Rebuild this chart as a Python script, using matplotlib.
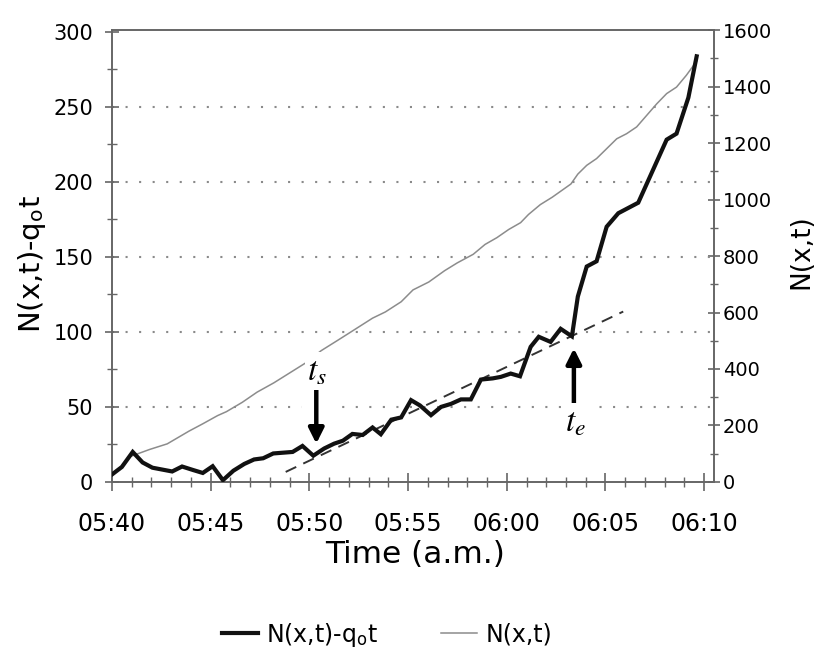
import matplotlib
matplotlib.use('Agg')
import matplotlib.pyplot as plt
from matplotlib.ticker import FixedLocator, FixedFormatter, MultipleLocator
from matplotlib.lines import Line2D

plt.rcParams['font.family'] = ['DejaVu Sans']
plt.rcParams['mathtext.fontset'] = 'stix'

# ---------------- data (minutes after 05:40) ----------------
minutes_black = [0.0, 0.5, 1.05, 1.55, 2.05, 3.05, 3.55, 4.1, 4.6, 5.1, 5.62, 6.15, 6.7, 7.2,
                 7.66, 8.17, 9.15, 9.65, 10.2, 10.75, 11.25, 11.7, 12.18, 12.7, 13.2, 13.62,
                 14.15, 14.65, 15.15, 15.6, 16.16, 16.67, 17.17, 17.68, 18.18, 18.69, 19.29,
                 19.7, 20.2, 20.67, 21.21, 21.62, 22.22, 22.73, 23.3, 23.6, 24.05, 24.55,
                 25.06, 25.65, 26.66, 28.1, 28.6, 29.2, 29.62]
n_minus_qt = [5, 10, 20, 13, 9.5, 7, 10.3, 8, 6, 10.5, 1.2, 7.5, 12, 15,
              15.8, 19, 20, 24, 17.5, 22.3, 25.5, 27.5, 32, 31.3, 36.3, 31.8,
              41.5, 43, 54.5, 51, 44.5, 50, 52, 55, 55, 68.2, 69,
              70, 72.2, 70.4, 90, 96.7, 93.3, 102, 97, 123.5, 143.5, 147,
              170, 179, 186, 228, 232, 256, 283.5]

minutes_gray = [1.0, 1.9, 2.8, 3.9, 4.6, 5.35, 5.8, 6.6, 7.35, 8.2, 9.0, 9.8, 10.6, 11.4,
                12.1, 13.2, 13.85, 14.65, 15.25, 16.05, 16.85, 17.5, 18.3, 18.9, 19.5,
                20.1, 20.7, 21.1, 21.7, 22.3, 23.25, 23.6, 24.05, 24.55, 25.06, 25.57,
                26.07, 26.58, 27.09, 27.6, 28.1, 28.6, 29.1, 29.62]
n_cumulative = [92, 115, 135, 180, 206, 235, 249, 282, 318, 351, 386, 421, 465, 500,
                531, 580, 602, 638, 680, 708, 748, 776, 806, 841, 865,
                894, 918, 947, 982, 1008, 1055, 1090, 1121, 1145, 1180, 1215,
                1233, 1257, 1298, 1339, 1375, 1398, 1440, 1490]

dash_minutes = [8.8, 25.9]
dash_values = [6.7, 113.5]

x_ticks = [0, 5, 10, 15, 20, 25, 30]
x_tick_labels = ['05:40', '05:45', '05:50', '05:55', '06:00', '06:05', '06:10']
left_ticks = [0, 50, 100, 150, 200, 250, 300]
right_ticks = [0, 200, 400, 600, 800, 1000, 1200, 1400, 1600]
grid_values = [50, 100, 150, 200, 250]

ts_minute, ts_tail, ts_tip, ts_label_y = 10.35, 62.0, 25.5, 74.0
te_minute, te_tail, te_tip, te_label_y = 23.4, 51.0, 89.0, 40.0

# ---------------- figure ----------------
fig = plt.figure(figsize=(8.18, 6.53), dpi=100)
ax = fig.add_axes([0.1369, 0.2619, 0.7360, 0.6921])
ax2 = ax.twinx()
ax.set_zorder(ax2.get_zorder() + 1)
ax.patch.set_visible(False)

spine_col = '#666666'
for a in (ax, ax2):
    for s in a.spines.values():
        s.set_color(spine_col)
        s.set_linewidth(1.2)

# gridlines
for g in grid_values:
    ax.axhline(g, color='#8a8a8a', lw=1.5, linestyle=(0, (1, 5.5)), zorder=0.5)

# gray N(x,t)
ax2.plot(minutes_gray, n_cumulative, color='#8c8c8c', lw=1.1, zorder=2)

# black N - q0 t
ax.plot(dash_minutes, dash_values, color='#333333', lw=1.4, dashes=(6, 4), zorder=2.5)
ax.plot(minutes_black, n_minus_qt, color='#111111', lw=3.0, solid_joinstyle='miter', zorder=3)

# white shadows behind arrows (gaps in gridlines)
for m, tail, tip in ((ts_minute, ts_tail, ts_tip), (te_minute, te_tail, te_tip)):
    ax.plot([m, m], [tail, tip], color='white', lw=22, solid_capstyle='butt', zorder=1)

arrow_kw = dict(arrowstyle='-|>,head_length=0.9,head_width=0.45', lw=3.2,
                color='black', shrinkA=0, shrinkB=0)
ax.annotate('', xy=(ts_minute, ts_tip), xytext=(ts_minute, ts_tail),
            arrowprops=arrow_kw, zorder=4)
ax.annotate('', xy=(te_minute, te_tip), xytext=(te_minute, te_tail),
            arrowprops=arrow_kw, zorder=4)

ax.text(ts_minute + 0.05, ts_label_y, r'$t_s$', fontsize=24, ha='center', va='center',
        zorder=5, bbox=dict(facecolor='white', edgecolor='none', pad=2))
ax.text(te_minute + 0.1, te_label_y, r'$t_e$', fontsize=24, ha='center', va='center',
        zorder=5, bbox=dict(facecolor='white', edgecolor='none', pad=2))

# axes limits and ticks
ax.set_xlim(0, 30.5)
ax.set_ylim(0, 301)
ax2.set_ylim(0, 1600)

ax.xaxis.set_major_locator(FixedLocator(x_ticks))
ax.xaxis.set_major_formatter(FixedFormatter(x_tick_labels))
ax.xaxis.set_minor_locator(MultipleLocator(1))
ax.yaxis.set_major_locator(FixedLocator(left_ticks))
ax.yaxis.set_minor_locator(MultipleLocator(25))
ax2.yaxis.set_major_locator(FixedLocator(right_ticks))
ax2.yaxis.set_minor_locator(MultipleLocator(100))

ax.tick_params(axis='x', which='major', direction='inout', length=13, width=1.2,
               color=spine_col, labelsize=17, pad=15, top=False)
ax.tick_params(axis='x', which='minor', direction='inout', length=7, width=1.0,
               color=spine_col, top=False)
ax.tick_params(axis='y', which='major', direction='inout', length=10, width=1.2,
               color=spine_col, labelsize=15, pad=8.5, right=False)
ax.tick_params(axis='y', which='minor', direction='inout', length=6.5, width=1.0,
               color=spine_col, right=False)
ax2.tick_params(axis='y', which='major', direction='inout', length=9, width=1.2,
                color=spine_col, labelsize=14, pad=2)
ax2.tick_params(axis='y', which='minor', direction='inout', length=5.5, width=1.0,
                color=spine_col)

# axis labels
ax.set_xlabel('Time (a.m.)', fontsize=22.5, va='top')
ax.xaxis.set_label_coords(0.503, -0.128)
ax.set_ylabel(r'N(x,t)-q$_\mathregular{o}$t', fontsize=21, ha='center', va='center')
ax.yaxis.set_label_coords(-0.133, 0.482)
ax2.set_ylabel('N(x,t)', fontsize=19, rotation=90, ha='center', va='center')
ax2.yaxis.set_label_coords(1.1445, 0.509)

# legend
handles = [Line2D([], [], color='#111111', lw=3.0),
           Line2D([], [], color='#8c8c8c', lw=1.1)]
labels = [r'N(x,t)-q$_\mathregular{o}$t', 'N(x,t)']
fig.legend(handles, labels, loc='center', bbox_to_anchor=(0.473, 0.028), ncol=2,
           frameon=False, fontsize=17, handlelength=1.55, handletextpad=0.35,
           columnspacing=2.6)

fig.savefig('out.png', dpi=100)
